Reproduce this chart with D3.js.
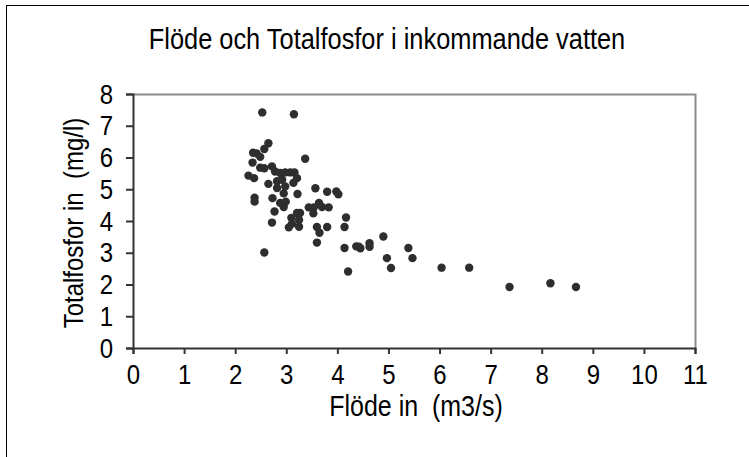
<!DOCTYPE html>
<html>
<head>
<meta charset="utf-8">
<script src="https://cdn.jsdelivr.net/npm/d3@7"></script>
<style>
	body { margin: 0; background: #fff; }
	text { font-family: "Liberation Sans", Arial, sans-serif; fill: #000; white-space: pre; }
</style>
</head>
<body>
<svg id="chart" width="749" height="457"></svg>
<script>

var chartTitle = "Flöde och Totalfosfor i inkommande vatten";
var xTitle = "Flöde in  (m3/s)";
var yTitle = "Totalfosfor in  (mg/l)";

// flöde in (m3/s)
var flodeIn = [2.53, 3.15, 2.65, 2.57, 2.35, 2.42, 2.49, 3.37, 2.34, 2.49,
	2.57, 2.72, 2.78, 2.88, 2.98, 3.08, 3.16, 3.21, 2.26, 2.37,
	2.82, 2.92, 2.65, 2.98, 3.14, 2.82, 2.95, 3.22, 2.38, 2.38,
	2.73, 2.88, 2.99, 2.95, 2.77, 3.10, 3.21, 3.27, 3.25, 3.25,
	2.72, 3.05, 3.11, 3.54, 3.44, 3.64, 3.70, 3.83, 3.53, 3.60,
	3.65, 3.80, 3.60, 3.57, 3.80, 3.98, 4.02, 4.17, 4.14, 4.14,
	4.21, 4.37, 4.45, 4.42, 4.63, 4.63, 4.90, 4.97, 5.05, 5.39,
	5.47, 6.04, 6.58, 7.37, 8.17, 8.67, 2.57];

// totalfosfor in (mg/l)
var totalfosforIn = [7.42, 7.36, 6.45, 6.27, 6.15, 6.13, 6.02, 5.96, 5.84, 5.68,
	5.66, 5.72, 5.56, 5.51, 5.53, 5.53, 5.53, 5.35, 5.43, 5.35,
	5.25, 5.30, 5.17, 5.09, 5.20, 5.04, 4.87, 4.85, 4.73, 4.61,
	4.72, 4.57, 4.61, 4.44, 4.30, 4.10, 4.25, 4.25, 4.03, 3.82,
	3.95, 3.80, 3.91, 4.43, 4.43, 4.57, 4.44, 4.43, 4.24, 3.81,
	3.63, 3.81, 3.32, 5.03, 4.92, 4.93, 4.84, 4.11, 3.81, 3.15,
	2.41, 3.20, 3.14, 3.19, 3.30, 3.19, 3.51, 2.83, 2.52, 3.15,
	2.83, 2.53, 2.53, 1.92, 2.04, 1.92, 3.01];

var xTicks = [0, 1, 2, 3, 4, 5, 6, 7, 8, 9, 10, 11];
var yTicks = [0, 1, 2, 3, 4, 5, 6, 7, 8];

// the original text is drawn a bit taller than normal
var stretch = 1.18;

function drawChart()
{
	var svg = d3.select("#chart");

	var left = 133, right = 695, top = 94, bottom = 348;

	var xScale = d3.scaleLinear()
		.domain([0, 11])
		.range([left, right]);

	var yScale = d3.scaleLinear()
		.domain([0, 8])
		.range([bottom, top]);

	// outer frame of the chart object
	svg.append("rect")
		.attr("x", 6.5)
		.attr("y", 5.5)
		.attr("width", 800)
		.attr("height", 500)
		.attr("fill", "none")
		.attr("stroke", "#000");

	// plot area, grey on top and right
	svg.append("path")
		.attr("d", "M" + left + "," + (top + 0.5) + "H" + (right + 0.5) + "V" + bottom)
		.attr("fill", "none")
		.attr("stroke", "#8c8c8c")
		.attr("stroke-width", 2);

	var xAxis = d3.axisBottom(xScale)
		.tickValues(xTicks)
		.tickSize(6)
		.tickFormat(d3.format("d"));

	var yAxis = d3.axisLeft(yScale)
		.tickValues(yTicks)
		.tickSize(7)
		.tickPadding(13)
		.tickFormat(d3.format("d"));

	var gx = svg.append("g")
		.attr("transform", "translate(0," + bottom + ")")
		.call(xAxis);

	var gy = svg.append("g")
		.attr("transform", "translate(" + left + ",0)")
		.call(yAxis);

	svg.selectAll(".domain, .tick line")
		.attr("stroke", "#333")
		.attr("stroke-width", 2);

	svg.selectAll(".tick text")
		.style("font-size", "24px")
		.style("font-family", "Liberation Sans, Arial, sans-serif")
		.attr("fill", "#000")
		.attr("transform", "scale(1," + stretch + ")");

	gx.selectAll(".tick text")
		.attr("y", 36 / stretch)
		.attr("dy", 0);

	svg.selectAll("circle")
		.data(flodeIn)
		.enter()
		.append("circle")
		.attr("cx", function(d) { return xScale(d); })
		.attr("cy", function(d, i) { return yScale(totalfosforIn[i]); })
		.attr("r", 4.2)
		.attr("fill", "#2e2e2e");

	svg.append("text")
		.attr("transform", "translate(387,49) scale(1," + stretch + ")")
		.attr("text-anchor", "middle")
		.style("font-size", "25.4px")
		.text(chartTitle);

	svg.append("text")
		.attr("transform", "translate(416,416) scale(1," + stretch + ")")
		.attr("text-anchor", "middle")
		.style("font-size", "25px")
		.text(xTitle);

	svg.append("text")
		.attr("transform", "translate(83,223) rotate(-90) scale(1," + stretch + ")")
		.attr("text-anchor", "middle")
		.style("font-size", "24px")
		.text(yTitle);
}

drawChart();

</script>
</body>
</html>
